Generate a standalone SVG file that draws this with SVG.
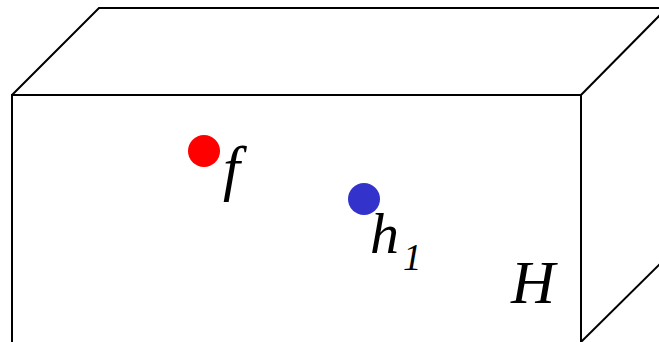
<svg xmlns="http://www.w3.org/2000/svg" width="659" height="342" viewBox="0 0 659 342">
<style>
.edge{fill:none;stroke:#000;stroke-width:2;stroke-linejoin:miter}
.lbl{font-family:"Liberation Serif","Times New Roman",serif;font-style:italic;fill:#000}
</style>
<rect width="659" height="342" fill="#fff"/>
<g id="connectors">
<path class="edge" d="M12,342 L12,95 L581,95 L581,342"/>
<path class="edge" d="M12,95 L99,8 L662,8"/>
<path class="edge" d="M581,95 L662,13"/>
<path class="edge" d="M581,342 L662,262"/>
</g>
<g id="node-f">
<circle cx="204" cy="151" r="16" fill="#ff0000"/>
<text class="lbl" x="223" y="189" font-size="61">f</text>
</g>
<g id="node-h1">
<circle cx="364" cy="199" r="16" fill="#3333cc"/>
<text class="lbl" x="370" y="253" font-size="58">h</text>
<text class="lbl" x="403" y="270" font-size="37">1</text>
</g>
<g id="node-H">
<text class="lbl" x="511" y="303" font-size="61">H</text>
</g>
</svg>
